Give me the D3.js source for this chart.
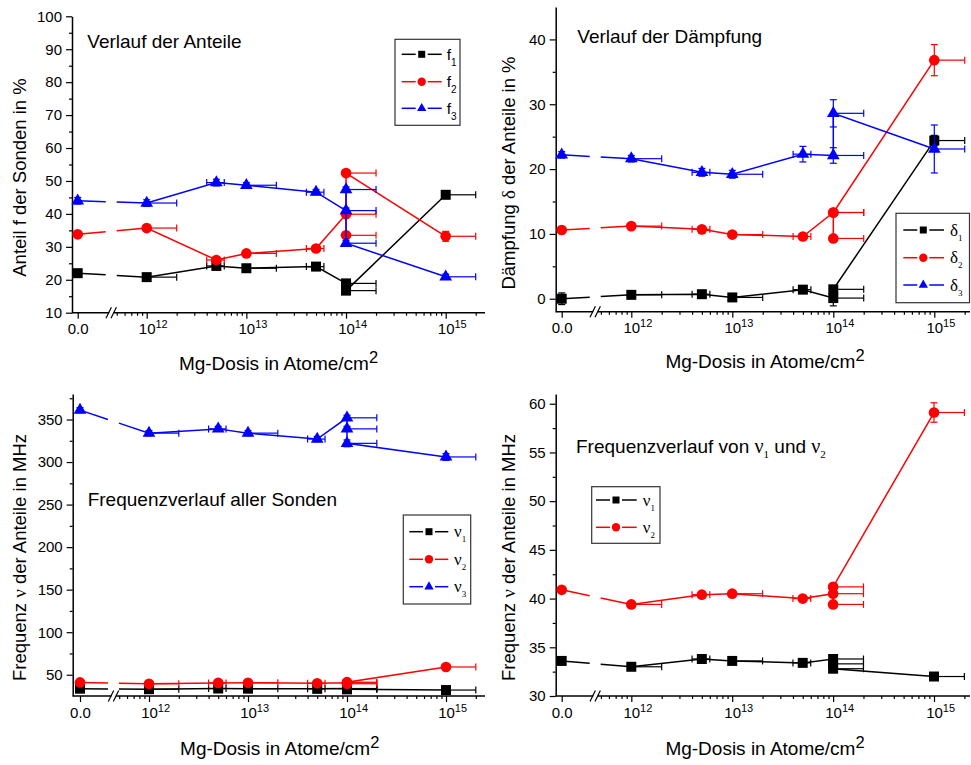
<!DOCTYPE html>
<html>
<head>
<meta charset="utf-8">
<script src="https://d3js.org/d3.v7.min.js"></script>
<style>
  body { margin: 0; background: #fff; }
  text { font-family: "Liberation Sans", Arial, sans-serif; fill: #000; }
  .greek { font-family: "Liberation Serif", "Times New Roman", serif; }
</style>
</head>
<body>
<div class="container"></div>
<script>
// dose levels (Atome/cm^2) and their x errors
var doseLevels = [0, 1e12, 5e12, 1e13, 5e13, 1e14, 1e15];
var doseErrMinus = [0, 0, 1e12, 0, 1e13, 0, 0];
var doseErrPlus = [0, 1e12, 1e12, 1e13, 1e13, 1e14, 1e15];
var decadeTicks = [1e12, 1e13, 1e14, 1e15];
var decadeLabels = ["12", "13", "14", "15"];

// Anteile f (%)
var doseF1 = [0, 1e12, 5e12, 1e13, 5e13, 1e14, 1e14, 1e15];
var f1 = [22.0, 20.8, 24.2, 23.5, 24.0, 18.9, 16.7, 45.8];
var f1Err = [0.6, 0.5, 0.8, 0.5, 0.6, 0.6, 0.6, 0.8];
var doseF23 = [0, 1e12, 5e12, 1e13, 5e13, 1e14, 1e14, 1e14, 1e15];
var f2 = [33.8, 35.7, 26.0, 28.0, 29.5, 39.9, 33.5, 52.4, 33.2];
var f2Err = [0.6, 0.6, 1.0, 0.6, 0.6, 0.8, 0.8, 0.8, 1.5];
var f3 = [44.0, 43.3, 49.5, 48.7, 46.6, 41.0, 47.4, 31.1, 20.9];
var f3Err = [1.0, 1.0, 1.0, 0.8, 0.8, 0.8, 0.8, 0.8, 0.8];

// Daempfung delta (%)
var doseDelta13 = [0, 1e12, 5e12, 1e13, 5e13, 1e14, 1e14, 1e15];
var delta1 = [0.0, 0.6, 0.7, 0.2, 1.4, 0.1, 1.45, 24.4];
var delta1Err = [0.9, 0.3, 0.3, 0.3, 0.3, 1.2, 0.3, 0.8];
var doseDelta2 = [0, 1e12, 5e12, 1e13, 5e13, 1e14, 1e14, 1e14, 1e15];
var delta2 = [10.6, 11.2, 10.7, 9.9, 9.6, 13.3, 9.3, 13.3, 36.8];
var delta2Err = [0.3, 0.3, 0.3, 0.3, 0.3, 0.4, 0.3, 0.4, 2.4];
var delta3 = [22.2, 21.6, 19.5, 19.2, 22.3, 22.1, 28.6, 23.1];
var delta3Err = [0.5, 0.5, 0.6, 0.6, 1.2, 1.2, 2.1, 3.7];

// Frequenzen nu (MHz)
var doseNu = [0, 1e12, 5e12, 1e13, 5e13, 1e14, 1e14, 1e14, 1e15];
var nu1 = [33.6, 33.0, 33.8, 33.6, 33.4, 33.8, 33.3, 32.8, 32.0];
var nu1Err = [0.15, 0.15, 0.15, 0.15, 0.15, 0.15, 0.15, 0.15, 0.15];
var nu2 = [40.9, 39.4, 40.4, 40.5, 40.0, 40.5, 39.4, 41.2, 59.1];
var nu2Err = [0.15, 0.15, 0.2, 0.15, 0.2, 0.2, 0.2, 0.2, 1.0];
var nu3 = [361, 334, 339, 334, 327, 352, 339, 322, 306];
var nu3Err = [3, 3, 3, 3, 3, 3, 3, 4, 4];

var BLACK = "#000000", RED = "#ff0000", BLUE = "#0000ff";

var svg = d3.select(".container").append("svg")
  .attr("width", 971)
  .attr("height", 765);
svg.append("rect").attr("width", 971).attr("height", 765).attr("fill", "#fff");

var symbols = { sq: d3.symbolSquare, ci: d3.symbolCircle, tr: d3.symbolTriangle };
var symSize = { sq: 100, ci: 90, tr: 70 };
var legSize = { sq: 49, ci: 55, tr: 38 };

function drawPanel(p) {
  var g = svg.append("g");
  var y = d3.scaleLinear().domain(p.yDomain).range([p.bottom, p.top]);
  var xLog = d3.scaleLog().domain([1e12, 1e15]).range([p.x12, p.x15]);
  var xZero = d3.scaleLinear().domain([0, 1]).range([p.zeroX, p.zeroX + 100]);
  function xPos(v) { return v === 0 ? xZero(0) : xLog(v); }
  var breakX = p.zeroX + 34;

  // y axis
  g.append("g")
    .attr("transform", "translate(" + p.left + ",0)")
    .call(d3.axisLeft(y).tickValues(p.yTicks).tickSize(6).tickSizeOuter(0).tickPadding(4))
    .call(function (a) {
      a.select(".domain").attr("stroke-width", 1.5);
      a.selectAll(".tick line").attr("stroke-width", 1.2);
      a.selectAll("text").attr("font-size", "15px").attr("font-family", "Liberation Sans, Arial, sans-serif");
    });
  g.append("g")
    .attr("transform", "translate(" + p.left + ",0)")
    .call(d3.axisLeft(y).tickValues(p.yMinor).tickSize(3).tickFormat(""))
    .call(function (a) { a.select(".domain").remove(); a.selectAll(".tick line").attr("stroke-width", 1.2); });

  // x axis line
  g.append("line")
    .attr("x1", p.left).attr("x2", p.right)
    .attr("y1", p.bottom).attr("y2", p.bottom)
    .attr("stroke", "#000").attr("stroke-width", 1.5);

  var minorX = [];
  [11, 12, 13, 14, 15].forEach(function (e) {
    for (var k = 2; k <= 9; k++) {
      var v = k * Math.pow(10, e);
      if (v >= 5e11 && v <= 2e15) minorX.push(v);
    }
  });
  g.append("g")
    .attr("transform", "translate(0," + p.bottom + ")")
    .call(d3.axisBottom(xLog).tickValues(minorX).tickSize(3).tickFormat(""))
    .call(function (a) { a.select(".domain").remove(); a.selectAll(".tick line").attr("stroke-width", 1.2); });
  var major = g.append("g")
    .attr("transform", "translate(0," + p.bottom + ")")
    .call(d3.axisBottom(xLog).tickValues(decadeTicks).tickSize(6).tickFormat(""))
    .call(function (a) { a.select(".domain").remove(); a.selectAll(".tick line").attr("stroke-width", 1.2); });
  major.selectAll(".tick").each(function (d, i) {
    var t = d3.select(this);
    t.append("text").attr("y", 21.5).attr("text-anchor", "middle")
      .attr("font-size", "15px").attr("fill", "#000").text("10");
    t.append("text").attr("x", 8.3).attr("y", 15.5).attr("text-anchor", "start")
      .attr("font-size", "11px").attr("fill", "#000").text(decadeLabels[i]);
  });
  g.append("g")
    .attr("transform", "translate(0," + p.bottom + ")")
    .call(d3.axisBottom(xZero).tickValues([0]).tickSize(6).tickFormat(d3.format(".1f")))
    .call(function (a) {
      a.select(".domain").remove();
      a.selectAll(".tick line").attr("stroke-width", 1.2);
      a.selectAll("text").attr("y", 21.5).attr("dy", 0).attr("font-size", "15px")
        .attr("font-family", "Liberation Sans, Arial, sans-serif");
    });

  // axis break //
  g.append("rect").attr("x", breakX - 2.5).attr("y", p.bottom - 2).attr("width", 4.5).attr("height", 4)
    .attr("fill", "#fff");
  [-3, 2].forEach(function (o) {
    g.append("line")
      .attr("x1", breakX + o - 2.7).attr("y1", p.bottom + 5.5)
      .attr("x2", breakX + o + 2.7).attr("y2", p.bottom - 5.5)
      .attr("stroke", "#000").attr("stroke-width", 1.2);
  });

  // series
  p.series.forEach(function (s) {
    var pts = s.dose.map(function (d, i) { return [xPos(d), y(s.val[i])]; });
    var a = pts[0], b = pts[1];
    function at(px) { var t = (px - a[0]) / (b[0] - a[0]); return [px, a[1] + t * (b[1] - a[1])]; }
    var segs = [[a, at(breakX - 6)], [at(breakX + 5)].concat(pts.slice(1))];
    g.append("g").selectAll("path")
      .data(segs)
      .join("path")
      .attr("d", d3.line())
      .attr("fill", "none")
      .attr("stroke", s.color)
      .attr("stroke-width", 1.5);

    var eb = g.append("g").attr("stroke", s.color).attr("stroke-width", 1.2);
    s.dose.forEach(function (d, i) {
      var k = doseLevels.indexOf(d);
      var py = y(s.val[i]), px = xPos(d);
      if (d > 0) {
        var lo = d - doseErrMinus[k], hi = d + doseErrPlus[k];
        eb.append("line").attr("x1", xLog(lo)).attr("x2", xLog(hi)).attr("y1", py).attr("y2", py);
        eb.append("line").attr("x1", xLog(hi)).attr("x2", xLog(hi)).attr("y1", py - 3.5).attr("y2", py + 3.5);
        if (doseErrMinus[k] > 0)
          eb.append("line").attr("x1", xLog(lo)).attr("x2", xLog(lo)).attr("y1", py - 3.5).attr("y2", py + 3.5);
      }
      var y1 = y(s.val[i] - s.err[i]), y2 = y(s.val[i] + s.err[i]);
      eb.append("line").attr("x1", px).attr("x2", px).attr("y1", y1).attr("y2", y2);
      [y1, y2].forEach(function (yy) {
        eb.append("line").attr("x1", px - 3.5).attr("x2", px + 3.5).attr("y1", yy).attr("y2", yy);
      });
    });

    g.append("g").selectAll("path")
      .data(pts)
      .join("path")
      .attr("transform", function (d) { return "translate(" + d[0] + "," + d[1] + ")"; })
      .attr("d", d3.symbol().type(symbols[s.sym]).size(symSize[s.sym]))
      .attr("fill", s.color);
  });

  // title
  var tt = g.append("text").attr("x", p.title[0]).attr("y", p.title[1]).attr("font-size", "19px");
  p.titleParts.forEach(function (tp) {
    var ts = tt.append("tspan").text(tp.t);
    if (tp.greek) ts.attr("class", "greek").attr("font-size", "20px");
    if (tp.sub) ts.attr("class", "greek").attr("font-size", "11px").attr("dy", 5);
    if (tp.up) ts.attr("dy", -5);
  });

  // y label
  var yl = g.append("text")
    .attr("transform", "translate(" + p.ylabX + "," + p.ylabY + ") rotate(-90)")
    .attr("text-anchor", "middle").attr("font-size", "18.5px");
  p.ylab.forEach(function (tp) {
    var ts = yl.append("tspan").text(tp.t);
    if (tp.greek) ts.attr("class", "greek").attr("font-size", "19px");
  });

  // x label
  var xl = g.append("text").attr("x", p.xlab[0]).attr("y", p.xlab[1])
    .attr("text-anchor", "middle").attr("font-size", "19px");
  xl.append("tspan").text("Mg-Dosis in Atome/cm");
  xl.append("tspan").attr("font-size", "16.5px").attr("dy", -7).text("2");

  // legend
  var L = p.legend;
  g.append("rect").attr("x", L.box[0]).attr("y", L.box[1]).attr("width", L.box[2]).attr("height", L.box[3])
    .attr("fill", "#fff").attr("stroke", "#333").attr("stroke-width", 1.2);
  p.series.forEach(function (s, i) {
    var ry = L.rows[i];
    [[L.x0, L.mx - 6], [L.mx + 6, L.x1]].forEach(function (seg) {
      g.append("line").attr("x1", seg[0]).attr("x2", seg[1]).attr("y1", ry).attr("y2", ry)
        .attr("stroke", s.color).attr("stroke-width", 1.5);
    });
    g.append("path")
      .attr("transform", "translate(" + L.mx + "," + ry + ")")
      .attr("d", d3.symbol().type(symbols[s.sym]).size(legSize[s.sym]))
      .attr("fill", s.color);
    var lt = g.append("text").attr("x", L.tx).attr("y", ry + 5.5);
    if (L.greek) {
      lt.append("tspan").attr("class", "greek").attr("font-size", "17px").text(s.label);
      lt.append("tspan").attr("class", "greek").attr("font-size", "9px").attr("dy", 5).text(i + 1);
    } else {
      lt.append("tspan").attr("font-size", "15.5px").text(s.label);
      lt.append("tspan").attr("font-size", "10px").attr("dy", 6).text(i + 1);
    }
  });
}

drawPanel({
  left: 72, bottom: 312.7, top: 16.3, zeroX: 77.7, x12: 146.7, x15: 445.7, right: 485,
  yDomain: [10, 100], yTicks: d3.range(10, 101, 10), yMinor: d3.range(15, 100, 10),
  title: [87.3, 48], titleParts: [{ t: "Verlauf der Anteile" }],
  ylabX: 26, ylabY: 177.5, ylab: [{ t: "Anteil f der Sonden in %" }],
  xlab: [278.5, 370],
  legend: { box: [395, 39.3, 65, 86], rows: [54.3, 81.7, 108.3], x0: 401.7, x1: 441.7, mx: 421.7, tx: 446.7, greek: false },
  series: [
    { dose: doseF1, val: f1, err: f1Err, color: BLACK, sym: "sq", label: "f" },
    { dose: doseF23, val: f2, err: f2Err, color: RED, sym: "ci", label: "f" },
    { dose: doseF23, val: f3, err: f3Err, color: BLUE, sym: "tr", label: "f" }
  ]
});

drawPanel({
  left: 555.7, bottom: 311.7, top: 7, zeroX: 561.7, x12: 631.3, x15: 934.3, right: 970,
  yDomain: [-2, 45], yTicks: d3.range(0, 41, 10), yMinor: d3.range(5, 45, 10),
  title: [577.3, 42.7], titleParts: [{ t: "Verlauf der Dämpfung" }],
  ylabX: 515, ylabY: 173, ylab: [{ t: "Dämpfung " }, { t: "δ", greek: true }, { t: " der Anteile in %" }],
  xlab: [765, 368.3],
  legend: { box: [896, 213.3, 73.5, 89.4], rows: [230, 257.7, 285], x0: 903.3, x1: 944, mx: 923.3, tx: 950, greek: true },
  series: [
    { dose: doseDelta13, val: delta1, err: delta1Err, color: BLACK, sym: "sq", label: "δ" },
    { dose: doseDelta2, val: delta2, err: delta2Err, color: RED, sym: "ci", label: "δ" },
    { dose: doseDelta13, val: delta3, err: delta3Err, color: BLUE, sym: "tr", label: "δ" }
  ]
});

drawPanel({
  left: 72.7, bottom: 696, top: 394, zeroX: 80, x12: 149, x15: 446, right: 485,
  yDomain: [25, 380], yTicks: d3.range(50, 351, 50), yMinor: d3.range(75, 380, 50),
  title: [87.7, 506], titleParts: [{ t: "Frequenzverlauf aller Sonden" }],
  ylabX: 25.5, ylabY: 557.5, ylab: [{ t: "Frequenz " }, { t: "ν", greek: true }, { t: " der Anteile in MHz" }],
  xlab: [279.7, 755],
  legend: { box: [403.3, 515, 67.4, 89], rows: [531.7, 559.3, 586.7], x0: 409.3, x1: 448.3, mx: 429, tx: 454, greek: true },
  series: [
    { dose: doseNu, val: nu1, err: nu1Err, color: BLACK, sym: "sq", label: "ν" },
    { dose: doseNu, val: nu2, err: nu2Err, color: RED, sym: "ci", label: "ν" },
    { dose: doseNu, val: nu3, err: nu3Err, color: BLUE, sym: "tr", label: "ν" }
  ]
});

drawPanel({
  left: 555.7, bottom: 696, top: 394, zeroX: 561.7, x12: 631.3, x15: 934, right: 970,
  yDomain: [30, 61], yTicks: d3.range(30, 61, 5), yMinor: d3.range(32.5, 61, 5),
  title: [576, 452.7],
  titleParts: [{ t: "Frequenzverlauf von " }, { t: "ν", greek: true }, { t: "1", sub: true },
               { t: " und ", up: true }, { t: "ν", greek: true }, { t: "2", sub: true }],
  ylabX: 515, ylabY: 557.5, ylab: [{ t: "Frequenz " }, { t: "ν", greek: true }, { t: " der Anteile in MHz" }],
  xlab: [765, 755],
  legend: { box: [591.7, 486.7, 68.3, 56.6], rows: [500, 527.3], x0: 596, x1: 636.7, mx: 616, tx: 642.7, greek: true },
  series: [
    { dose: doseNu, val: nu1, err: nu1Err, color: BLACK, sym: "sq", label: "ν" },
    { dose: doseNu, val: nu2, err: nu2Err, color: RED, sym: "ci", label: "ν" }
  ]
});
</script>
</body>
</html>
